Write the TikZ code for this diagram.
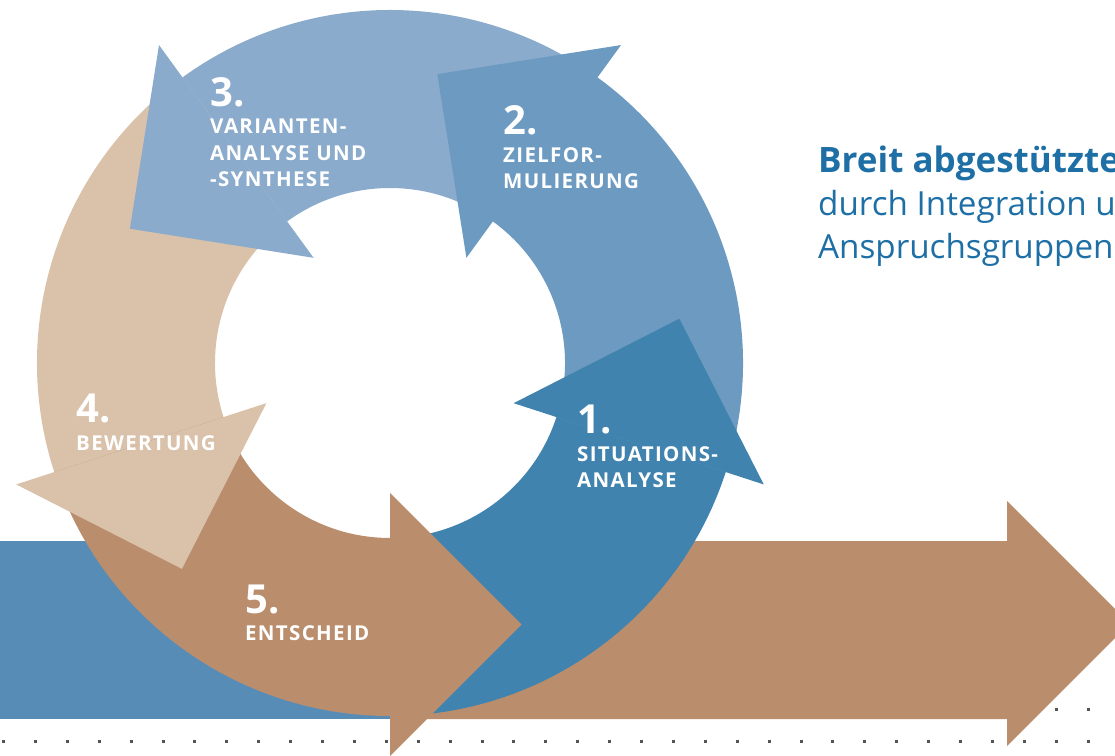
\documentclass[tikz,border=0pt]{standalone}
\usepackage{fontspec}
\setmainfont{Open Sans}
\newfontfamily\stepfont[LetterSpace=6.5]{Open Sans}
\usetikzlibrary{calc}
\usetikzlibrary{positioning}

\definecolor{situation}{HTML}{4183AF}
\definecolor{zielform}{HTML}{6C9AC1}
\definecolor{varianten}{HTML}{8BABCD}
\definecolor{bewertung}{HTML}{D9C1AA}
\definecolor{entscheid}{HTML}{BA8E6C}
\definecolor{barblue}{HTML}{578CB7}
\definecolor{infoblue}{HTML}{1D6FA5}
\definecolor{dotgray}{HTML}{555555}

\begin{document}
\begin{tikzpicture}[x=1pt,y=1pt,
    stepnum/.style={text=white, inner sep=0pt, anchor=base west,
      font=\bfseries\fontsize{40}{40}\selectfont},
    steptext/.style={text=white, inner sep=0pt, align=left,
      font=\stepfont\bfseries\fontsize{20.5}{26.5}\selectfont},
    infotext/.style={text=infoblue, inner sep=0pt, align=left,
      font=\fontsize{33.2}{43}\selectfont},
    dotline/.style={dotgray, line width=3pt, dash pattern=on 3pt off 28.9pt, dash phase=29.9pt}]
    \useasboundingbox (0,0) rectangle (1115,755);
    \clip (0,0) rectangle (1115,755);

    \draw[dotline] (0,14) -- (1115,14);
    \draw[dotline] (0,46) -- (1115,46);

    \fill[barblue] (0,36) rectangle (390,214);
    \fill[entscheid] (390,36) -- (1007,36) -- (1007,9) -- (1129.5,131.5)
        -- (1007,254) -- (1007,214) -- (390,214) -- cycle;

    \coordinate (C) at (390,392);

    \fill[situation] ($(C)+(-90:175)$) -- ($(C)+(-90:353)$)
        arc[start angle=-90, end angle=-17, radius=353pt]
        -- ($(C)+(-17:175)$) arc[start angle=-17, end angle=-90, radius=175pt] -- cycle;
    \fill[zielform] ($(C)+(-18:175)$) -- ($(C)+(-18:353)$)
        arc[start angle=-18, end angle=55, radius=353pt]
        -- ($(C)+(55:175)$) arc[start angle=55, end angle=-18, radius=175pt] -- cycle;
    \fill[varianten] ($(C)+(54:175)$) -- ($(C)+(54:353)$)
        arc[start angle=54, end angle=127, radius=353pt]
        -- ($(C)+(127:175)$) arc[start angle=127, end angle=54, radius=175pt] -- cycle;
    \fill[bewertung] ($(C)+(126:175)$) -- ($(C)+(126:353)$)
        arc[start angle=126, end angle=199, radius=353pt]
        -- ($(C)+(199:175)$) arc[start angle=199, end angle=126, radius=175pt] -- cycle;
    \fill[entscheid] ($(C)+(198:175)$) -- ($(C)+(198:353)$)
        arc[start angle=198, end angle=271, radius=353pt]
        -- ($(C)+(271:175)$) arc[start angle=271, end angle=198, radius=175pt] -- cycle;

    \fill[situation] ($(C)+(-18:130)$) -- ($(C)+(-18:393)$)
        -- ($(C)+(-18:261.5)+(72:131.5)$) -- cycle;
    \fill[zielform] ($(C)+(54:130)$) -- ($(C)+(54:393)$)
        -- ($(C)+(54:261.5)+(144:131.5)$) -- cycle;
    \fill[varianten] ($(C)+(126:130)$) -- ($(C)+(126:393)$)
        -- ($(C)+(126:261.5)+(216:131.5)$) -- cycle;
    \fill[bewertung] ($(C)+(198:130)$) -- ($(C)+(198:393)$)
        -- ($(C)+(198:261.5)+(288:131.5)$) -- cycle;
    \fill[entscheid] ($(C)+(270:130)$) -- ($(C)+(270:393)$)
        -- ($(C)+(270:261.5)+(0:131.5)$) -- cycle;

    \node[stepnum] (num1) at (577,321) {1.};
    \node[steptext, below right=12pt and 0pt of num1.base west] (txt1) {SITUATIONS-\\ANALYSE};
    \node[stepnum] (num2) at (503,620) {2.};
    \node[steptext, below right=12pt and 0pt of num2.base west] (txt2) {ZIELFOR-\\MULIERUNG};
    \node[stepnum] (num3) at (210,648) {3.};
    \node[steptext, below right=12pt and 0pt of num3.base west] (txt3) {VARIANTEN-\\ANALYSE UND\\-SYNTHESE};
    \node[stepnum] (num4) at (76,332) {4.};
    \node[steptext, below right=12pt and 0pt of num4.base west] (txt4) {BEWERTUNG};
    \node[stepnum] (num5) at (245,142) {5.};
    \node[steptext, below right=12pt and 0pt of num5.base west] (txt5) {ENTSCHEID};

    \node[infotext, anchor=north west] (info) at (818,609.6)
        {{\bfseries\fontsize{35}{43}\selectfont Breit abgestützte}\\durch Integration u\\Anspruchsgruppen};
\end{tikzpicture}
\end{document}
